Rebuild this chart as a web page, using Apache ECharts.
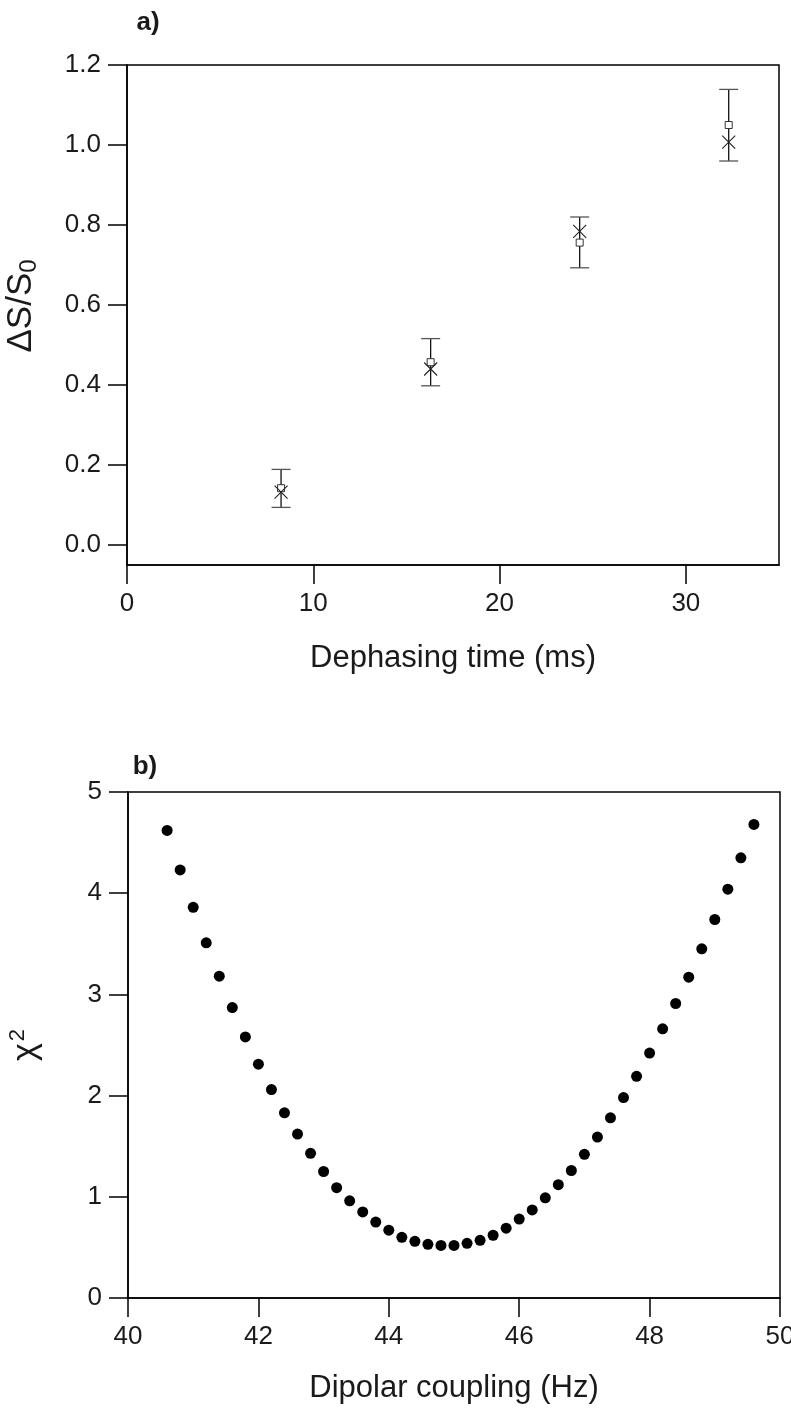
<!DOCTYPE html>
<html>
<head>
<meta charset="utf-8">
<script src="https://cdn.jsdelivr.net/npm/echarts@6/dist/echarts.min.js"></script>
<style>
html,body{margin:0;padding:0;background:#fff;}
#chart{width:791px;height:1411px;}
</style>
</head>
<body>
<div id="chart"></div>
<script>
// ---- Panel a) data ----
const dephasingTime = [8.27, 16.3, 24.3, 32.3];
const squareValues = [0.142, 0.457, 0.756, 1.05];
const crossValues = [0.132, 0.44, 0.784, 1.007];
const errLow = [0.094, 0.398, 0.693, 0.96];
const errHigh = [0.189, 0.516, 0.82, 1.139];
const xTicksA = [0, 10, 20, 30];
const yTicksA = [0, 0.2, 0.4, 0.6, 0.8, 1.0, 1.2];

// ---- Panel b) data ----
const coupling = [40.6, 40.8, 41.0, 41.2, 41.4, 41.6, 41.8, 42.0, 42.2, 42.4,
  42.6, 42.8, 43.0, 43.2, 43.4, 43.6, 43.8, 44.0, 44.2, 44.4,
  44.6, 44.8, 45.0, 45.2, 45.4, 45.6, 45.8, 46.0, 46.2, 46.4,
  46.6, 46.8, 47.0, 47.2, 47.4, 47.6, 47.8, 48.0, 48.2, 48.4,
  48.6, 48.8, 49.0, 49.2, 49.4, 49.6];
const chiSquare = [4.62, 4.23, 3.86, 3.51, 3.18, 2.87, 2.58, 2.31, 2.06, 1.83,
  1.62, 1.43, 1.25, 1.09, 0.96, 0.85, 0.75, 0.67, 0.60, 0.56,
  0.53, 0.52, 0.52, 0.54, 0.57, 0.62, 0.69, 0.78, 0.87, 0.99,
  1.12, 1.26, 1.42, 1.59, 1.78, 1.98, 2.19, 2.42, 2.66, 2.91,
  3.17, 3.45, 3.74, 4.04, 4.35, 4.68];

const FONT = '"Liberation Sans", Arial, sans-serif';
const TXT = '#1a1a1a';
const tickLabel = {color: TXT, fontSize: 26, fontFamily: FONT, margin: 26};
const axisLine = {show: true, onZero: false, lineStyle: {color: '#000', width: 1.5}};
const axisTick = {show: true, inside: false, length: 19, lineStyle: {color: '#000', width: 1.5}};

const chart = echarts.init(document.getElementById('chart'), null, {renderer: 'canvas'});

const errData = dephasingTime.map((t, i) => [t, errLow[i], errHigh[i]]);

chart.setOption({
  animation: false,
  backgroundColor: '#fff',
  title: [
    {text: 'a)', left: 143, top: 18, textAlign: 'center', textVerticalAlign: 'middle',
     textStyle: {fontSize: 26, fontWeight: 'bold', color: TXT, fontFamily: FONT}},
    {text: 'b)', left: 140, top: 762, textAlign: 'center', textVerticalAlign: 'middle',
     textStyle: {fontSize: 26, fontWeight: 'bold', color: TXT, fontFamily: FONT}}
  ],
  grid: [
    {left: 127, top: 65, right: 12, height: 500, show: true, borderColor: '#000', borderWidth: 1.5,
     backgroundColor: 'transparent', outerBoundsMode: 'none', containLabel: false},
    {left: 128, top: 792, right: 11, height: 506, show: true, borderColor: '#000', borderWidth: 1.5,
     backgroundColor: 'transparent', outerBoundsMode: 'none', containLabel: false}
  ],
  xAxis: [
    {gridIndex: 0, type: 'value', min: 0, max: 35, interval: 10,
     axisLine, axisTick: Object.assign({}, axisTick, {customValues: xTicksA}),
     axisLabel: Object.assign({}, tickLabel, {customValues: xTicksA}),
     splitLine: {show: false},
     name: 'Dephasing time (ms)', nameLocation: 'middle', nameGap: 78,
     nameTextStyle: {fontSize: 31, color: TXT, fontFamily: FONT}},
    {gridIndex: 1, type: 'value', min: 40, max: 50, interval: 2,
     axisLine, axisTick, axisLabel: tickLabel, splitLine: {show: false},
     name: 'Dipolar coupling (Hz)', nameLocation: 'middle', nameGap: 75,
     nameTextStyle: {fontSize: 31, color: TXT, fontFamily: FONT}}
  ],
  yAxis: [
    {gridIndex: 0, type: 'value', min: -0.05, max: 1.2,
     axisLine, axisTick: Object.assign({}, axisTick, {customValues: yTicksA}),
     axisLabel: Object.assign({}, tickLabel, {customValues: yTicksA, formatter: v => v.toFixed(1)}),
     splitLine: {show: false},
     name: '{m|ΔS/S}{s|0}', nameLocation: 'middle', nameGap: 86,
     nameTextStyle: {color: TXT, fontFamily: FONT, padding: [0, 0, 0, 18],
       rich: {m: {fontSize: 35, color: TXT, fontFamily: FONT},
              s: {fontSize: 24, color: TXT, fontFamily: FONT, padding: [15, 0, 0, 0]}}}},
    {gridIndex: 1, type: 'value', min: 0, max: 5, interval: 1,
     axisLine, axisTick, axisLabel: tickLabel, splitLine: {show: false},
     name: '{m|χ}{s|2}', nameLocation: 'middle', nameGap: 84,
     nameTextStyle: {color: TXT, fontFamily: FONT,
       rich: {m: {fontSize: 34, color: TXT, fontFamily: FONT},
              s: {fontSize: 22, color: TXT, fontFamily: FONT, padding: [0, 0, 15, 2]}}}}
  ],
  series: [
    {type: 'custom', xAxisIndex: 0, yAxisIndex: 0, data: errData, z: 2,
     renderItem: function (params, api) {
       const x = api.value(0);
       const pLo = api.coord([x, api.value(1)]);
       const pHi = api.coord([x, api.value(2)]);
       const hw = 9.5;
       const st = {stroke: '#111', lineWidth: 1.3};
       return {type: 'group', children: [
         {type: 'line', shape: {x1: pLo[0], y1: pLo[1], x2: pHi[0], y2: pHi[1]}, style: st},
         {type: 'line', shape: {x1: pLo[0] - hw, y1: pLo[1], x2: pLo[0] + hw, y2: pLo[1]}, style: {stroke: '#555', lineWidth: 1.3}},
         {type: 'line', shape: {x1: pHi[0] - hw, y1: pHi[1], x2: pHi[0] + hw, y2: pHi[1]}, style: {stroke: '#555', lineWidth: 1.3}}
       ]};
     }},
    {type: 'scatter', xAxisIndex: 0, yAxisIndex: 0, z: 3,
     data: dephasingTime.map((t, i) => [t, squareValues[i]]),
     symbol: 'rect', symbolSize: 7,
     itemStyle: {color: '#fff', borderColor: '#333', borderWidth: 1, opacity: 1}},
    {type: 'scatter', xAxisIndex: 0, yAxisIndex: 0, z: 4,
     data: dephasingTime.map((t, i) => [t, crossValues[i]]),
     symbol: 'path://M0,0L10,10M10,0L0,10', symbolSize: 13,
     itemStyle: {color: 'none', borderColor: '#222', borderWidth: 1.1, opacity: 1}},
    {type: 'scatter', xAxisIndex: 1, yAxisIndex: 1,
     data: coupling.map((c, i) => [c, chiSquare[i]]),
     symbol: 'circle', symbolSize: 11,
     itemStyle: {color: '#000', opacity: 1}}
  ]
});
</script>
</body>
</html>
